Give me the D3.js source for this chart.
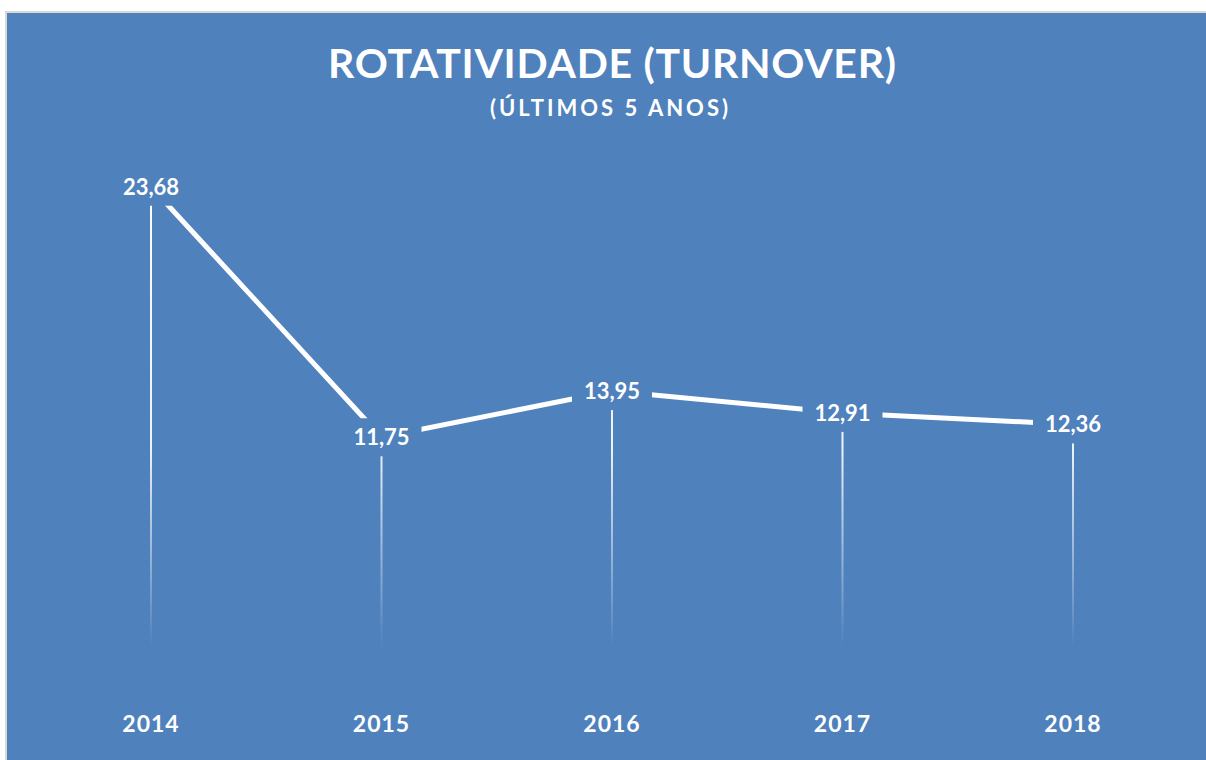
<!DOCTYPE html>
<html>
<head>
<meta charset="utf-8">
<script src="https://cdn.jsdelivr.net/npm/d3@7"></script>
<style>
  body { margin: 0; background: #fff; }
  text { font-family: Lato, "Open Sans", sans-serif; font-weight: bold; fill: #fff; }
</style>
</head>
<body>
<svg id="chart" width="1206" height="760"></svg>
<script>
const years = ["2014", "2015", "2016", "2017", "2018"];
const turnover = [23.68, 11.75, 13.95, 12.91, 12.36];
const valueLabels = ["23,68", "11,75", "13,95", "12,91", "12,36"];

const bg = "#4F81BD";
const svg = d3.select("#chart");

// chart panel with the thin grey frame
svg.append("rect")
  .attr("x", 6).attr("y", 12)
  .attr("width", 1220).attr("height", 770)
  .attr("fill", bg)
  .attr("stroke", "#d9d9d9")
  .attr("stroke-width", 2);

// titles
svg.append("text")
  .attr("x", 612).attr("y", 78)
  .attr("text-anchor", "middle")
  .attr("font-size", 41)
  .attr("textLength", 568)
  .attr("lengthAdjust", "spacing")
  .text("ROTATIVIDADE (TURNOVER)");

svg.append("text")
  .attr("x", 609).attr("y", 116)
  .attr("text-anchor", "middle")
  .attr("font-size", 22)
  .attr("textLength", 238)
  .attr("lengthAdjust", "spacing")
  .text("(ÚLTIMOS 5 ANOS)");

// scales
const x = d3.scalePoint()
  .domain(years)
  .range([151, 1073]);

const y = d3.scaleLinear()
  .domain([0, 25])
  .range([684, 159]);

// fading gradient for drop lines
const grad = svg.append("defs").append("linearGradient")
  .attr("id", "fade")
  .attr("gradientUnits", "userSpaceOnUse")
  .attr("x1", 0).attr("x2", 0)
  .attr("y1", y(25)).attr("y2", y(0));
grad.append("stop").attr("offset", "0%").attr("stop-color", "#fff").attr("stop-opacity", 1);
grad.append("stop").attr("offset", "55%").attr("stop-color", "#fff").attr("stop-opacity", 0.9);
grad.append("stop").attr("offset", "93%").attr("stop-color", "#fff").attr("stop-opacity", 0);

const data = years.map((d, i) => ({year: d, value: turnover[i], label: valueLabels[i]}));

// drop lines
svg.append("g").selectAll("line")
  .data(data)
  .enter()
  .append("line")
  .attr("x1", d => x(d.year))
  .attr("x2", d => x(d.year))
  .attr("y1", d => y(d.value))
  .attr("y2", y(0))
  .attr("stroke", "url(#fade)")
  .attr("stroke-width", 2);

// series line
svg.append("path")
  .datum(data)
  .attr("fill", "none")
  .attr("stroke", "#fff")
  .attr("stroke-width", 5)
  .attr("d", d3.line().x(d => x(d.year)).y(d => y(d.value)));

// data labels on a background box that hides the line underneath
const labels = svg.append("g").selectAll("g")
  .data(data)
  .enter()
  .append("g")
  .attr("transform", d => `translate(${x(d.year)},${y(d.value)})`);

labels.append("rect")
  .attr("x", -40).attr("y", -19)
  .attr("width", 80).attr("height", 38)
  .attr("fill", bg);

labels.append("text")
  .attr("text-anchor", "middle")
  .attr("dy", "0.36em")
  .attr("font-size", 22)
  .text(d => d.label);

// category axis labels
svg.append("g").selectAll("text")
  .data(years)
  .enter()
  .append("text")
  .attr("x", d => x(d))
  .attr("y", 732)
  .attr("text-anchor", "middle")
  .attr("font-size", 23)
  .attr("letter-spacing", 1)
  .text(d => d);
</script>
</body>
</html>
